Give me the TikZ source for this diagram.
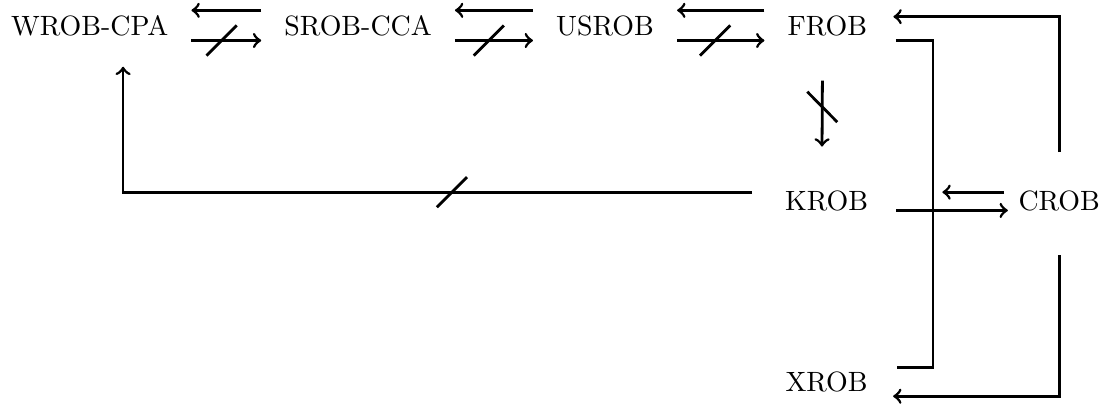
\documentclass[tikz,border=0pt]{standalone}
\usetikzlibrary{decorations.markings}
\tikzset{negated/.style={postaction={decorate,decoration={markings,
      mark=at position #1 with {\draw[-,line width=1pt,shorten <=0pt,shorten >=0pt] (-1.9mm,-1.9mm) -- (1.9mm,1.9mm);}}}},
  negated/.default=.45,
  pr/.style={->,shorten <=4.5pt,shorten >=4.5pt}}
\begin{document}
\begin{tikzpicture}[line width=1pt, every node/.style={inner sep=3.33pt}]
              \useasboundingbox (0,0) rectangle (14.08,-5.1);
              \node (w) at (1.13,-.33) {WROB-CPA};
              \node (s) at (4.51,-.33) {SROB-CCA};
              \node (u) at (7.62,-.33) {USROB};
              \node (f) at (10.42,-.33) {FROB};
              \node (k) at (10.41,-2.53) {KROB};
              \node (c) at (13.34,-2.53) {CROB};
              \node (x) at (10.41,-4.81) {XROB};
              \coordinate (bus) at (11.75,0);
              \coordinate (fe) at ([xshift=6.5pt,yshift=-1.8mm]f.east);
              \coordinate (xe) at ([xshift=6.5pt,yshift=1.8mm]x.east);
              \draw[pr] ([yshift=2mm]s.west) -- ([yshift=2mm]w.east);
              \draw[pr,negated] ([yshift=-1.8mm]w.east) -- ([yshift=-1.8mm]s.west);
              \draw[pr] ([yshift=2mm]u.west) -- ([yshift=2mm]s.east);
              \draw[pr,negated] ([yshift=-1.8mm]s.east) -- ([yshift=-1.8mm]u.west);
              \draw[pr] ([yshift=2mm]f.west) -- ([yshift=2mm]u.east);
              \draw[pr,negated] ([yshift=-1.8mm]u.east) -- ([yshift=-1.8mm]f.west);
              \draw[->,shorten <=12pt,shorten >=12pt,negated] ([xshift=-.6mm]f.south) -- ([xshift=-.6mm]k.north);
              \draw[->,shorten <=8pt,shorten >=7pt,negated=.405] ([yshift=1.1mm]k.west) -| ([xshift=4.2mm]w.south);
              \draw[->,shorten <=10pt,shorten >=5.6pt] (c.north) |- ([yshift=1.2mm]f.east);
              \draw (fe) -| (bus |- xe) -- (xe);
              \draw[->,shorten <=12pt,shorten >=5.3pt] (c.south) |- ([yshift=-1.8mm]x.east);
              \draw[->,shorten <=6.3pt] ([yshift=-1.2mm]k.east) -- ([yshift=-1.2mm]c.west);
              \draw[->,shorten <=1.3pt,shorten >=22.8pt] ([yshift=1.1mm]c.west) -- ([yshift=1.1mm]k.east);
\end{tikzpicture}
\end{document}
